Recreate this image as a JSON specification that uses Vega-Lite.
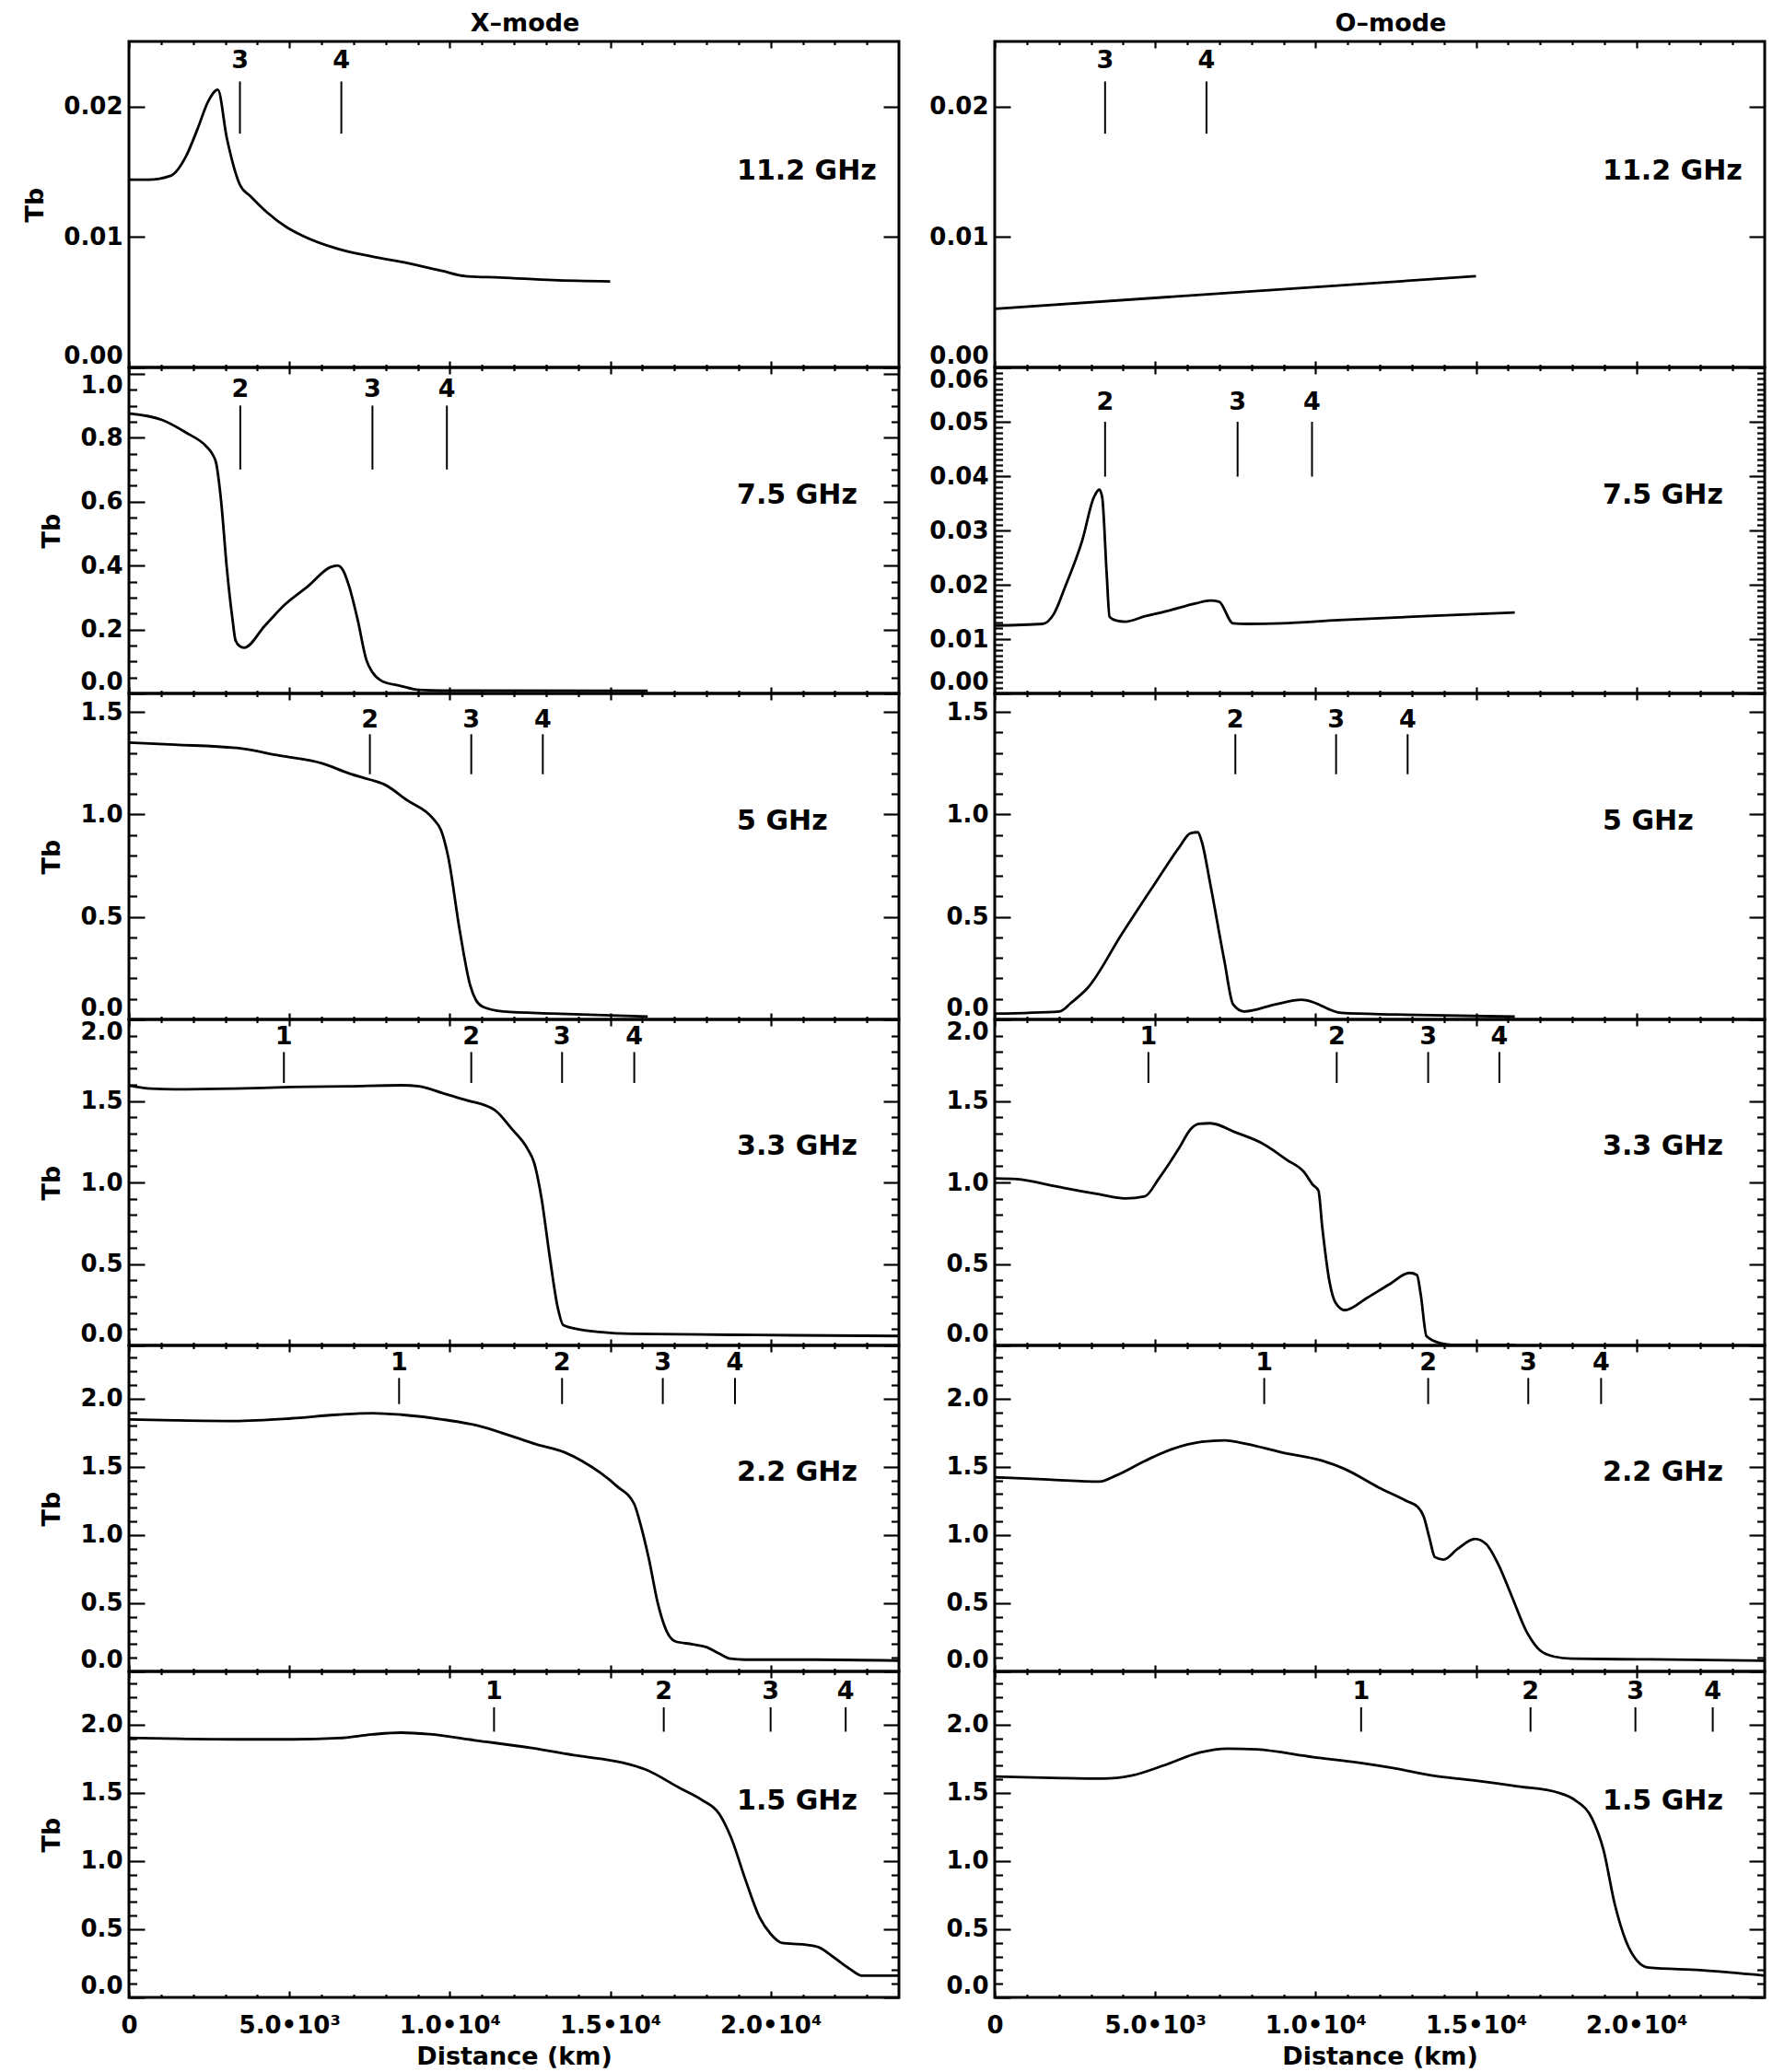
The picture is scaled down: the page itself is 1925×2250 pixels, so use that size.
{
"$schema": "https://vega.github.io/schema/vega-lite/v6.json",
"background": "white",
"padding": {"left": 23, "top": 10, "right": 0, "bottom": 0},
"config": {
  "font": "DejaVu Sans",
  "view": {"stroke": "black", "strokeWidth": 3},
  "axis": {"domain": false, "grid": false, "tickColor": "black", "tickWidth": 2.2, "labelFont": "DejaVu Sans", "labelFontWeight": "bold", "labelFontSize": 26, "labelColor": "black", "titleFont": "DejaVu Sans", "titleFontWeight": "bold", "titleFontSize": 27, "titleColor": "black", "labelOverlap": false},
  "title": {"font": "DejaVu Sans", "fontWeight": "bold", "fontSize": 27, "color": "black", "frame": "group", "anchor": "middle", "offset": 4}
},
"datasets": {
"curves": [
{"mode":"X","ghz":11.2,"d":0,"tb":0.0144},{"mode":"X","ghz":11.2,"d":600,"tb":0.0144},{"mode":"X","ghz":11.2,"d":1300,"tb":0.0147},{"mode":"X","ghz":11.2,"d":1780,"tb":0.0162},{"mode":"X","ghz":11.2,"d":2140,"tb":0.0183},{"mode":"X","ghz":11.2,"d":2470,"tb":0.0204},{"mode":"X","ghz":11.2,"d":2770,"tb":0.0213},{"mode":"X","ghz":11.2,"d":3050,"tb":0.0176},{"mode":"X","ghz":11.2,"d":3460,"tb":0.0140},{"mode":"X","ghz":11.2,"d":3800,"tb":0.0131},{"mode":"X","ghz":11.2,"d":4300,"tb":0.0119},{"mode":"X","ghz":11.2,"d":4950,"tb":0.0107},{"mode":"X","ghz":11.2,"d":5410,"tb":0.0101},{"mode":"X","ghz":11.2,"d":6500,"tb":0.0091},{"mode":"X","ghz":11.2,"d":7590,"tb":0.0085},{"mode":"X","ghz":11.2,"d":8680,"tb":0.0080},{"mode":"X","ghz":11.2,"d":9760,"tb":0.0074},{"mode":"X","ghz":11.2,"d":10490,"tb":0.0070},{"mode":"X","ghz":11.2,"d":11580,"tb":0.0069},{"mode":"X","ghz":11.2,"d":13210,"tb":0.0067},{"mode":"X","ghz":11.2,"d":15000,"tb":0.0066},
{"mode":"O","ghz":11.2,"d":0,"tb":0.0045},{"mode":"O","ghz":11.2,"d":15000,"tb":0.0070},
{"mode":"X","ghz":7.5,"d":0,"tb":0.876},{"mode":"X","ghz":7.5,"d":1050,"tb":0.855},{"mode":"X","ghz":7.5,"d":1780,"tb":0.816},{"mode":"X","ghz":7.5,"d":2410,"tb":0.773},{"mode":"X","ghz":7.5,"d":2600,"tb":0.749},{"mode":"X","ghz":7.5,"d":2720,"tb":0.72},{"mode":"X","ghz":7.5,"d":2870,"tb":0.605},{"mode":"X","ghz":7.5,"d":3050,"tb":0.393},{"mode":"X","ghz":7.5,"d":3230,"tb":0.23},{"mode":"X","ghz":7.5,"d":3320,"tb":0.167},{"mode":"X","ghz":7.5,"d":3450,"tb":0.148},{"mode":"X","ghz":7.5,"d":3590,"tb":0.143},{"mode":"X","ghz":7.5,"d":4230,"tb":0.211},{"mode":"X","ghz":7.5,"d":4860,"tb":0.278},{"mode":"X","ghz":7.5,"d":5590,"tb":0.336},{"mode":"X","ghz":7.5,"d":6280,"tb":0.395},{"mode":"X","ghz":7.5,"d":6500,"tb":0.400},{"mode":"X","ghz":7.5,"d":6680,"tb":0.384},{"mode":"X","ghz":7.5,"d":6860,"tb":0.336},{"mode":"X","ghz":7.5,"d":7130,"tb":0.23},{"mode":"X","ghz":7.5,"d":7400,"tb":0.105},{"mode":"X","ghz":7.5,"d":7590,"tb":0.066},{"mode":"X","ghz":7.5,"d":7860,"tb":0.04},{"mode":"X","ghz":7.5,"d":8490,"tb":0.023},{"mode":"X","ghz":7.5,"d":9040,"tb":0.011},{"mode":"X","ghz":7.5,"d":9760,"tb":0.009},{"mode":"X","ghz":7.5,"d":16170,"tb":0.008},
{"mode":"O","ghz":7.5,"d":0,"tb":0.0125},{"mode":"O","ghz":7.5,"d":1490,"tb":0.0128},{"mode":"O","ghz":7.5,"d":1840,"tb":0.0146},{"mode":"O","ghz":7.5,"d":2200,"tb":0.0197},{"mode":"O","ghz":7.5,"d":2730,"tb":0.0282},{"mode":"O","ghz":7.5,"d":3090,"tb":0.0361},{"mode":"O","ghz":7.5,"d":3260,"tb":0.0375},{"mode":"O","ghz":7.5,"d":3350,"tb":0.0361},{"mode":"O","ghz":7.5,"d":3490,"tb":0.0220},{"mode":"O","ghz":7.5,"d":3580,"tb":0.0141},{"mode":"O","ghz":7.5,"d":3790,"tb":0.0134},{"mode":"O","ghz":7.5,"d":4060,"tb":0.0132},{"mode":"O","ghz":7.5,"d":4680,"tb":0.0142},{"mode":"O","ghz":7.5,"d":5390,"tb":0.0152},{"mode":"O","ghz":7.5,"d":6280,"tb":0.0166},{"mode":"O","ghz":7.5,"d":6720,"tb":0.0171},{"mode":"O","ghz":7.5,"d":6990,"tb":0.0169},{"mode":"O","ghz":7.5,"d":7430,"tb":0.0129},{"mode":"O","ghz":7.5,"d":7870,"tb":0.0128},{"mode":"O","ghz":7.5,"d":8940,"tb":0.0129},{"mode":"O","ghz":7.5,"d":10710,"tb":0.0135},{"mode":"O","ghz":7.5,"d":13370,"tb":0.0142},{"mode":"O","ghz":7.5,"d":16210,"tb":0.0149},
{"mode":"X","ghz":5,"d":0,"tb":1.35},{"mode":"X","ghz":5,"d":1420,"tb":1.34},{"mode":"X","ghz":5,"d":3410,"tb":1.323},{"mode":"X","ghz":5,"d":4680,"tb":1.287},{"mode":"X","ghz":5,"d":6040,"tb":1.248},{"mode":"X","ghz":5,"d":6860,"tb":1.2},{"mode":"X","ghz":5,"d":7500,"tb":1.17},{"mode":"X","ghz":5,"d":7950,"tb":1.147},{"mode":"X","ghz":5,"d":8680,"tb":1.068},{"mode":"X","ghz":5,"d":9490,"tb":0.977},{"mode":"X","ghz":5,"d":9730,"tb":0.922},{"mode":"X","ghz":5,"d":9950,"tb":0.794},{"mode":"X","ghz":5,"d":10310,"tb":0.434},{"mode":"X","ghz":5,"d":10640,"tb":0.164},{"mode":"X","ghz":5,"d":10820,"tb":0.093},{"mode":"X","ghz":5,"d":11030,"tb":0.062},{"mode":"X","ghz":5,"d":11670,"tb":0.039},{"mode":"X","ghz":5,"d":13210,"tb":0.029},{"mode":"X","ghz":5,"d":16170,"tb":0.014},
{"mode":"O","ghz":5,"d":0,"tb":0.0285},{"mode":"O","ghz":5,"d":2020,"tb":0.039},{"mode":"O","ghz":5,"d":2380,"tb":0.081},{"mode":"O","ghz":5,"d":2910,"tb":0.156},{"mode":"O","ghz":5,"d":3970,"tb":0.419},{"mode":"O","ghz":5,"d":5040,"tb":0.674},{"mode":"O","ghz":5,"d":5750,"tb":0.839},{"mode":"O","ghz":5,"d":6100,"tb":0.908},{"mode":"O","ghz":5,"d":6330,"tb":0.913},{"mode":"O","ghz":5,"d":6450,"tb":0.869},{"mode":"O","ghz":5,"d":6720,"tb":0.659},{"mode":"O","ghz":5,"d":7160,"tb":0.284},{"mode":"O","ghz":5,"d":7430,"tb":0.074},{"mode":"O","ghz":5,"d":7780,"tb":0.039},{"mode":"O","ghz":5,"d":8760,"tb":0.074},{"mode":"O","ghz":5,"d":9560,"tb":0.096},{"mode":"O","ghz":5,"d":9730,"tb":0.093},{"mode":"O","ghz":5,"d":10800,"tb":0.032},{"mode":"O","ghz":5,"d":12480,"tb":0.024},{"mode":"O","ghz":5,"d":16210,"tb":0.0135},
{"mode":"X","ghz":3.3,"d":0,"tb":1.594},{"mode":"X","ghz":3.3,"d":690,"tb":1.575},{"mode":"X","ghz":3.3,"d":1420,"tb":1.571},{"mode":"X","ghz":3.3,"d":3230,"tb":1.575},{"mode":"X","ghz":3.3,"d":5050,"tb":1.585},{"mode":"X","ghz":3.3,"d":6860,"tb":1.59},{"mode":"X","ghz":3.3,"d":8490,"tb":1.596},{"mode":"X","ghz":3.3,"d":9040,"tb":1.59},{"mode":"X","ghz":3.3,"d":9760,"tb":1.549},{"mode":"X","ghz":3.3,"d":10490,"tb":1.506},{"mode":"X","ghz":3.3,"d":11400,"tb":1.444},{"mode":"X","ghz":3.3,"d":11940,"tb":1.327},{"mode":"X","ghz":3.3,"d":12400,"tb":1.214},{"mode":"X","ghz":3.3,"d":12630,"tb":1.12},{"mode":"X","ghz":3.3,"d":12850,"tb":0.914},{"mode":"X","ghz":3.3,"d":13120,"tb":0.538},{"mode":"X","ghz":3.3,"d":13360,"tb":0.237},{"mode":"X","ghz":3.3,"d":13540,"tb":0.124},{"mode":"X","ghz":3.3,"d":14120,"tb":0.096},{"mode":"X","ghz":3.3,"d":14660,"tb":0.083},{"mode":"X","ghz":3.3,"d":15660,"tb":0.071},{"mode":"X","ghz":3.3,"d":19560,"tb":0.064},{"mode":"X","ghz":3.3,"d":24000,"tb":0.058},
{"mode":"O","ghz":3.3,"d":0,"tb":1.025},{"mode":"O","ghz":3.3,"d":690,"tb":1.021},{"mode":"O","ghz":3.3,"d":1840,"tb":0.978},{"mode":"O","ghz":3.3,"d":3260,"tb":0.927},{"mode":"O","ghz":3.3,"d":4060,"tb":0.902},{"mode":"O","ghz":3.3,"d":4680,"tb":0.915},{"mode":"O","ghz":3.3,"d":5120,"tb":1.025},{"mode":"O","ghz":3.3,"d":5750,"tb":1.212},{"mode":"O","ghz":3.3,"d":6100,"tb":1.325},{"mode":"O","ghz":3.3,"d":6370,"tb":1.359},{"mode":"O","ghz":3.3,"d":6720,"tb":1.363},{"mode":"O","ghz":3.3,"d":7520,"tb":1.306},{"mode":"O","ghz":3.3,"d":8320,"tb":1.241},{"mode":"O","ghz":3.3,"d":9110,"tb":1.138},{"mode":"O","ghz":3.3,"d":9650,"tb":1.062},{"mode":"O","ghz":3.3,"d":9910,"tb":0.987},{"mode":"O","ghz":3.3,"d":10090,"tb":0.949},{"mode":"O","ghz":3.3,"d":10210,"tb":0.724},{"mode":"O","ghz":3.3,"d":10440,"tb":0.385},{"mode":"O","ghz":3.3,"d":10620,"tb":0.263},{"mode":"O","ghz":3.3,"d":10920,"tb":0.216},{"mode":"O","ghz":3.3,"d":11600,"tb":0.291},{"mode":"O","ghz":3.3,"d":12310,"tb":0.376},{"mode":"O","ghz":3.3,"d":12930,"tb":0.445},{"mode":"O","ghz":3.3,"d":13160,"tb":0.432},{"mode":"O","ghz":3.3,"d":13280,"tb":0.31},{"mode":"O","ghz":3.3,"d":13460,"tb":0.056},{"mode":"O","ghz":3.3,"d":13900,"tb":0.013},{"mode":"O","ghz":3.3,"d":14260,"tb":0.004},{"mode":"O","ghz":3.3,"d":16210,"tb":0.004},
{"mode":"X","ghz":2.2,"d":0,"tb":1.848},{"mode":"X","ghz":2.2,"d":1420,"tb":1.841},{"mode":"X","ghz":2.2,"d":3230,"tb":1.836},{"mode":"X","ghz":2.2,"d":5050,"tb":1.855},{"mode":"X","ghz":2.2,"d":6500,"tb":1.882},{"mode":"X","ghz":2.2,"d":7590,"tb":1.893},{"mode":"X","ghz":2.2,"d":8490,"tb":1.882},{"mode":"X","ghz":2.2,"d":9760,"tb":1.848},{"mode":"X","ghz":2.2,"d":10850,"tb":1.803},{"mode":"X","ghz":2.2,"d":11940,"tb":1.724},{"mode":"X","ghz":2.2,"d":12670,"tb":1.667},{"mode":"X","ghz":2.2,"d":13580,"tb":1.606},{"mode":"X","ghz":2.2,"d":14120,"tb":1.543},{"mode":"X","ghz":2.2,"d":15210,"tb":1.358},{"mode":"X","ghz":2.2,"d":15750,"tb":1.227},{"mode":"X","ghz":2.2,"d":15930,"tb":1.091},{"mode":"X","ghz":2.2,"d":16210,"tb":0.82},{"mode":"X","ghz":2.2,"d":16480,"tb":0.504},{"mode":"X","ghz":2.2,"d":16750,"tb":0.3},{"mode":"X","ghz":2.2,"d":17020,"tb":0.221},{"mode":"X","ghz":2.2,"d":17570,"tb":0.199},{"mode":"X","ghz":2.2,"d":18020,"tb":0.176},{"mode":"X","ghz":2.2,"d":18390,"tb":0.131},{"mode":"X","ghz":2.2,"d":18750,"tb":0.093},{"mode":"X","ghz":2.2,"d":19200,"tb":0.086},{"mode":"X","ghz":2.2,"d":21380,"tb":0.086},{"mode":"X","ghz":2.2,"d":24000,"tb":0.079},
{"mode":"O","ghz":2.2,"d":0,"tb":1.423},{"mode":"O","ghz":2.2,"d":1670,"tb":1.407},{"mode":"O","ghz":2.2,"d":3260,"tb":1.391},{"mode":"O","ghz":2.2,"d":3790,"tb":1.437},{"mode":"O","ghz":2.2,"d":4680,"tb":1.543},{"mode":"O","ghz":2.2,"d":5570,"tb":1.633},{"mode":"O","ghz":2.2,"d":6450,"tb":1.683},{"mode":"O","ghz":2.2,"d":7160,"tb":1.694},{"mode":"O","ghz":2.2,"d":7870,"tb":1.667},{"mode":"O","ghz":2.2,"d":8940,"tb":1.606},{"mode":"O","ghz":2.2,"d":10180,"tb":1.547},{"mode":"O","ghz":2.2,"d":10890,"tb":1.486},{"mode":"O","ghz":2.2,"d":11950,"tb":1.351},{"mode":"O","ghz":2.2,"d":12840,"tb":1.249},{"mode":"O","ghz":2.2,"d":13190,"tb":1.204},{"mode":"O","ghz":2.2,"d":13370,"tb":1.136},{"mode":"O","ghz":2.2,"d":13550,"tb":0.978},{"mode":"O","ghz":2.2,"d":13720,"tb":0.838},{"mode":"O","ghz":2.2,"d":13990,"tb":0.82},{"mode":"O","ghz":2.2,"d":14430,"tb":0.899},{"mode":"O","ghz":2.2,"d":14970,"tb":0.971},{"mode":"O","ghz":2.2,"d":15320,"tb":0.933},{"mode":"O","ghz":2.2,"d":15670,"tb":0.797},{"mode":"O","ghz":2.2,"d":16120,"tb":0.549},{"mode":"O","ghz":2.2,"d":16560,"tb":0.3},{"mode":"O","ghz":2.2,"d":17000,"tb":0.154},{"mode":"O","ghz":2.2,"d":17450,"tb":0.108},{"mode":"O","ghz":2.2,"d":17980,"tb":0.093},{"mode":"O","ghz":2.2,"d":20460,"tb":0.088},{"mode":"O","ghz":2.2,"d":24000,"tb":0.079},
{"mode":"X","ghz":1.5,"d":0,"tb":1.903},{"mode":"X","ghz":1.5,"d":1560,"tb":1.896},{"mode":"X","ghz":1.5,"d":3330,"tb":1.892},{"mode":"X","ghz":1.5,"d":5110,"tb":1.892},{"mode":"X","ghz":1.5,"d":6530,"tb":1.901},{"mode":"X","ghz":1.5,"d":7590,"tb":1.928},{"mode":"X","ghz":1.5,"d":8480,"tb":1.941},{"mode":"X","ghz":1.5,"d":9360,"tb":1.93},{"mode":"X","ghz":1.5,"d":10780,"tb":1.885},{"mode":"X","ghz":1.5,"d":12550,"tb":1.829},{"mode":"X","ghz":1.5,"d":13970,"tb":1.773},{"mode":"X","ghz":1.5,"d":15390,"tb":1.721},{"mode":"X","ghz":1.5,"d":16100,"tb":1.671},{"mode":"X","ghz":1.5,"d":17160,"tb":1.536},{"mode":"X","ghz":1.5,"d":17870,"tb":1.446},{"mode":"X","ghz":1.5,"d":18400,"tb":1.345},{"mode":"X","ghz":1.5,"d":18760,"tb":1.176},{"mode":"X","ghz":1.5,"d":19220,"tb":0.86},{"mode":"X","ghz":1.5,"d":19650,"tb":0.59},{"mode":"X","ghz":1.5,"d":20000,"tb":0.466},{"mode":"X","ghz":1.5,"d":20360,"tb":0.399},{"mode":"X","ghz":1.5,"d":21060,"tb":0.387},{"mode":"X","ghz":1.5,"d":21490,"tb":0.369},{"mode":"X","ghz":1.5,"d":21950,"tb":0.297},{"mode":"X","ghz":1.5,"d":22480,"tb":0.207},{"mode":"X","ghz":1.5,"d":22840,"tb":0.16},{"mode":"X","ghz":1.5,"d":24000,"tb":0.16},
{"mode":"O","ghz":1.5,"d":0,"tb":1.619},{"mode":"O","ghz":1.5,"d":1770,"tb":1.61},{"mode":"O","ghz":1.5,"d":3370,"tb":1.604},{"mode":"O","ghz":1.5,"d":4260,"tb":1.626},{"mode":"O","ghz":1.5,"d":5320,"tb":1.705},{"mode":"O","ghz":1.5,"d":6380,"tb":1.795},{"mode":"O","ghz":1.5,"d":7270,"tb":1.824},{"mode":"O","ghz":1.5,"d":8160,"tb":1.818},{"mode":"O","ghz":1.5,"d":9930,"tb":1.761},{"mode":"O","ghz":1.5,"d":11350,"tb":1.721},{"mode":"O","ghz":1.5,"d":12410,"tb":1.682},{"mode":"O","ghz":1.5,"d":13650,"tb":1.626},{"mode":"O","ghz":1.5,"d":14890,"tb":1.592},{"mode":"O","ghz":1.5,"d":16310,"tb":1.547},{"mode":"O","ghz":1.5,"d":17550,"tb":1.502},{"mode":"O","ghz":1.5,"d":18090,"tb":1.446},{"mode":"O","ghz":1.5,"d":18620,"tb":1.311},{"mode":"O","ghz":1.5,"d":18970,"tb":1.086},{"mode":"O","ghz":1.5,"d":19330,"tb":0.68},{"mode":"O","ghz":1.5,"d":19680,"tb":0.41},{"mode":"O","ghz":1.5,"d":20040,"tb":0.264},{"mode":"O","ghz":1.5,"d":20390,"tb":0.218},{"mode":"O","ghz":1.5,"d":21990,"tb":0.2},{"mode":"O","ghz":1.5,"d":24000,"tb":0.16}
],
"marks": [
{"mode":"X","ghz":11.2,"n":"3","d":3460},{"mode":"X","ghz":11.2,"n":"4","d":6620},
{"mode":"O","ghz":11.2,"n":"3","d":3440},{"mode":"O","ghz":11.2,"n":"4","d":6600},
{"mode":"X","ghz":7.5,"n":"2","d":3470},{"mode":"X","ghz":7.5,"n":"3","d":7590},{"mode":"X","ghz":7.5,"n":"4","d":9910},
{"mode":"O","ghz":7.5,"n":"2","d":3440},{"mode":"O","ghz":7.5,"n":"3","d":7570},{"mode":"O","ghz":7.5,"n":"4","d":9890},
{"mode":"X","ghz":5,"n":"2","d":7510},{"mode":"X","ghz":5,"n":"3","d":10670},{"mode":"X","ghz":5,"n":"4","d":12900},
{"mode":"O","ghz":5,"n":"2","d":7500},{"mode":"O","ghz":5,"n":"3","d":10640},{"mode":"O","ghz":5,"n":"4","d":12870},
{"mode":"X","ghz":3.3,"n":"1","d":4830},{"mode":"X","ghz":3.3,"n":"2","d":10670},{"mode":"X","ghz":3.3,"n":"3","d":13500},{"mode":"X","ghz":3.3,"n":"4","d":15750},
{"mode":"O","ghz":3.3,"n":"1","d":4790},{"mode":"O","ghz":3.3,"n":"2","d":10660},{"mode":"O","ghz":3.3,"n":"3","d":13510},{"mode":"O","ghz":3.3,"n":"4","d":15730},
{"mode":"X","ghz":2.2,"n":"1","d":8420},{"mode":"X","ghz":2.2,"n":"2","d":13500},{"mode":"X","ghz":2.2,"n":"3","d":16640},{"mode":"X","ghz":2.2,"n":"4","d":18890},
{"mode":"O","ghz":2.2,"n":"1","d":8400},{"mode":"O","ghz":2.2,"n":"2","d":13510},{"mode":"O","ghz":2.2,"n":"3","d":16630},{"mode":"O","ghz":2.2,"n":"4","d":18900},
{"mode":"X","ghz":1.5,"n":"1","d":11380},{"mode":"X","ghz":1.5,"n":"2","d":16670},{"mode":"X","ghz":1.5,"n":"3","d":20000},{"mode":"X","ghz":1.5,"n":"4","d":22340},
{"mode":"O","ghz":1.5,"n":"1","d":11420},{"mode":"O","ghz":1.5,"n":"2","d":16700},{"mode":"O","ghz":1.5,"n":"3","d":19970},{"mode":"O","ghz":1.5,"n":"4","d":22380}
],
"ghz": [
{"mode":"X","ghz":11.2,"label":"11.2 GHz"},{"mode":"O","ghz":11.2,"label":"11.2 GHz"},
{"mode":"X","ghz":7.5,"label":"7.5 GHz"},{"mode":"O","ghz":7.5,"label":"7.5 GHz"},
{"mode":"X","ghz":5,"label":"5 GHz"},{"mode":"O","ghz":5,"label":"5 GHz"},
{"mode":"X","ghz":3.3,"label":"3.3 GHz"},{"mode":"O","ghz":3.3,"label":"3.3 GHz"},
{"mode":"X","ghz":2.2,"label":"2.2 GHz"},{"mode":"O","ghz":2.2,"label":"2.2 GHz"},
{"mode":"X","ghz":1.5,"label":"1.5 GHz"},{"mode":"O","ghz":1.5,"label":"1.5 GHz"}
]
},
"columns": 2,
"spacing": {"row": 0, "column": 104},
"bounds": "flush",
"concat": [
{"width": 836, "height": 354, "title": {"text": "X–mode", "dx": 12},
 "layer": [
  {"data": {"name": "curves"}, "transform": [{"filter": "datum.mode == 'X' && datum.ghz == 11.2"}],
   "mark": {"type": "line", "color": "black", "strokeWidth": 2.8, "interpolate": "monotone", "clip": true},
   "encoding": {
    "x": {"field": "d", "type": "quantitative", "scale": {"domain": [0, 24000], "nice": false, "zero": false}, "axis": {"orient": "bottom", "values": [0,5000,10000,15000,20000], "labels": false, "tickSize": -7, "title": null}},
    "y": {"field": "tb", "type": "quantitative", "scale": {"domain": [0, 0.025], "nice": false, "zero": false}, "axis": {"orient": "left", "values": [0,0.01,0.02], "format": ".2f", "tickSize": -17, "labelPadding": 24, "labelFlush": 10, "title": "Tb", "titlePadding": 16}}}},
  {"data": {"name": "marks"}, "transform": [{"filter": "datum.mode == 'X' && datum.ghz == 11.2"}],
   "mark": {"type": "rule", "color": "black", "strokeWidth": 2},
   "encoding": {
    "x": {"field": "d", "type": "quantitative", "scale": {"domain": [0, 24000], "nice": false, "zero": false}, "axis": {"orient": "top", "values": [0,5000,10000,15000,20000], "labels": false, "tickSize": -7, "title": null}},
    "y": {"datum": 0.02193, "scale": {"domain": [0, 0.025], "nice": false, "zero": false}, "axis": {"orient": "right", "values": [0,0.01,0.02], "labels": false, "tickSize": -17, "title": null}},
    "y2": {"datum": 0.01793}}},
  {"data": {"name": "marks"}, "transform": [{"filter": "datum.mode == 'X' && datum.ghz == 11.2"}],
   "mark": {"type": "text", "font": "DejaVu Sans", "fontWeight": "bold", "fontSize": 27, "baseline": "middle", "align": "center", "color": "black"},
   "encoding": {
    "x": {"field": "d", "type": "quantitative", "scale": {"domain": [0, 24000], "nice": false, "zero": false}, "axis": {"orient": "bottom", "values": [1000,2000,3000,4000,6000,7000,8000,9000,11000,12000,13000,14000,16000,17000,18000,19000,21000,22000,23000], "labels": false, "tickSize": -3.5, "title": null}},
    "y": {"datum": 0.02355, "scale": {"domain": [0, 0.025], "nice": false, "zero": false}, "axis": null},
    "text": {"field": "n"}}},
  {"data": {"name": "ghz"}, "transform": [{"filter": "datum.mode == 'X' && datum.ghz == 11.2"}],
   "mark": {"type": "text", "font": "DejaVu Sans", "fontWeight": "bold", "fontSize": 30, "baseline": "middle", "align": "left", "color": "black"},
   "encoding": {
    "x": {"datum": 18950, "scale": {"domain": [0, 24000], "nice": false, "zero": false}, "axis": {"orient": "top", "values": [1000,2000,3000,4000,6000,7000,8000,9000,11000,12000,13000,14000,16000,17000,18000,19000,21000,22000,23000], "labels": false, "tickSize": -3.5, "title": null}},
    "y": {"datum": 0.01505, "scale": {"domain": [0, 0.025], "nice": false, "zero": false}, "axis": null},
    "text": {"field": "label"}}}
 ],
 "resolve": {"axis": {"x": "independent", "y": "independent"}}},
{"width": 836, "height": 354, "title": {"text": "O–mode", "dx": 12},
 "layer": [
  {"data": {"name": "curves"}, "transform": [{"filter": "datum.mode == 'O' && datum.ghz == 11.2"}],
   "mark": {"type": "line", "color": "black", "strokeWidth": 2.8, "interpolate": "monotone", "clip": true},
   "encoding": {
    "x": {"field": "d", "type": "quantitative", "scale": {"domain": [0, 24000], "nice": false, "zero": false}, "axis": {"orient": "bottom", "values": [0,5000,10000,15000,20000], "labels": false, "tickSize": -7, "title": null}},
    "y": {"field": "tb", "type": "quantitative", "scale": {"domain": [0, 0.025], "nice": false, "zero": false}, "axis": {"orient": "left", "values": [0,0.01,0.02], "format": ".2f", "tickSize": -17, "labelPadding": 24, "labelFlush": 10, "title": null}}}},
  {"data": {"name": "marks"}, "transform": [{"filter": "datum.mode == 'O' && datum.ghz == 11.2"}],
   "mark": {"type": "rule", "color": "black", "strokeWidth": 2},
   "encoding": {
    "x": {"field": "d", "type": "quantitative", "scale": {"domain": [0, 24000], "nice": false, "zero": false}, "axis": {"orient": "top", "values": [0,5000,10000,15000,20000], "labels": false, "tickSize": -7, "title": null}},
    "y": {"datum": 0.02193, "scale": {"domain": [0, 0.025], "nice": false, "zero": false}, "axis": {"orient": "right", "values": [0,0.01,0.02], "labels": false, "tickSize": -17, "title": null}},
    "y2": {"datum": 0.01793}}},
  {"data": {"name": "marks"}, "transform": [{"filter": "datum.mode == 'O' && datum.ghz == 11.2"}],
   "mark": {"type": "text", "font": "DejaVu Sans", "fontWeight": "bold", "fontSize": 27, "baseline": "middle", "align": "center", "color": "black"},
   "encoding": {
    "x": {"field": "d", "type": "quantitative", "scale": {"domain": [0, 24000], "nice": false, "zero": false}, "axis": {"orient": "bottom", "values": [1000,2000,3000,4000,6000,7000,8000,9000,11000,12000,13000,14000,16000,17000,18000,19000,21000,22000,23000], "labels": false, "tickSize": -3.5, "title": null}},
    "y": {"datum": 0.02355, "scale": {"domain": [0, 0.025], "nice": false, "zero": false}, "axis": null},
    "text": {"field": "n"}}},
  {"data": {"name": "ghz"}, "transform": [{"filter": "datum.mode == 'O' && datum.ghz == 11.2"}],
   "mark": {"type": "text", "font": "DejaVu Sans", "fontWeight": "bold", "fontSize": 30, "baseline": "middle", "align": "left", "color": "black"},
   "encoding": {
    "x": {"datum": 18950, "scale": {"domain": [0, 24000], "nice": false, "zero": false}, "axis": {"orient": "top", "values": [1000,2000,3000,4000,6000,7000,8000,9000,11000,12000,13000,14000,16000,17000,18000,19000,21000,22000,23000], "labels": false, "tickSize": -3.5, "title": null}},
    "y": {"datum": 0.01505, "scale": {"domain": [0, 0.025], "nice": false, "zero": false}, "axis": null},
    "text": {"field": "label"}}}
 ],
 "resolve": {"axis": {"x": "independent", "y": "independent"}}},
{"width": 836, "height": 354,
 "layer": [
  {"data": {"name": "curves"}, "transform": [{"filter": "datum.mode == 'X' && datum.ghz == 7.5"}],
   "mark": {"type": "line", "color": "black", "strokeWidth": 2.8, "interpolate": "monotone", "clip": true},
   "encoding": {
    "x": {"field": "d", "type": "quantitative", "scale": {"domain": [0, 24000], "nice": false, "zero": false}, "axis": {"orient": "bottom", "values": [0,5000,10000,15000,20000], "labels": false, "tickSize": -7, "title": null}},
    "y": {"field": "tb", "type": "quantitative", "scale": {"domain": [0, 1.02], "nice": false, "zero": false}, "axis": {"orient": "left", "values": [0,0.2,0.4,0.6,0.8,1.0], "format": ".1f", "tickSize": -17, "labelPadding": 24, "labelFlush": 10, "title": "Tb", "titlePadding": 16}}}},
  {"data": {"name": "marks"}, "transform": [{"filter": "datum.mode == 'X' && datum.ghz == 7.5"}],
   "mark": {"type": "rule", "color": "black", "strokeWidth": 2},
   "encoding": {
    "x": {"field": "d", "type": "quantitative", "scale": {"domain": [0, 24000], "nice": false, "zero": false}, "axis": {"orient": "top", "values": [0,5000,10000,15000,20000], "labels": false, "tickSize": -7, "title": null}},
    "y": {"datum": 0.9007, "scale": {"domain": [0, 1.02], "nice": false, "zero": false}, "axis": {"orient": "right", "values": [0,0.2,0.4,0.6,0.8,1.0], "labels": false, "tickSize": -17, "title": null}},
    "y2": {"datum": 0.7007}}},
  {"data": {"name": "marks"}, "transform": [{"filter": "datum.mode == 'X' && datum.ghz == 7.5"}],
   "mark": {"type": "text", "font": "DejaVu Sans", "fontWeight": "bold", "fontSize": 27, "baseline": "middle", "align": "center", "color": "black"},
   "encoding": {
    "x": {"field": "d", "type": "quantitative", "scale": {"domain": [0, 24000], "nice": false, "zero": false}, "axis": {"orient": "bottom", "values": [1000,2000,3000,4000,6000,7000,8000,9000,11000,12000,13000,14000,16000,17000,18000,19000,21000,22000,23000], "labels": false, "tickSize": -3.5, "title": null}},
    "y": {"datum": 0.9506, "scale": {"domain": [0, 1.02], "nice": false, "zero": false}, "axis": {"orient": "left", "values": [0.05,0.1,0.15,0.25,0.3,0.35,0.45,0.5,0.55,0.65,0.7,0.75,0.85,0.9,0.95], "labels": false, "tickSize": -8.5, "title": null}},
    "text": {"field": "n"}}},
  {"data": {"name": "ghz"}, "transform": [{"filter": "datum.mode == 'X' && datum.ghz == 7.5"}],
   "mark": {"type": "text", "font": "DejaVu Sans", "fontWeight": "bold", "fontSize": 30, "baseline": "middle", "align": "left", "color": "black"},
   "encoding": {
    "x": {"datum": 18950, "scale": {"domain": [0, 24000], "nice": false, "zero": false}, "axis": {"orient": "top", "values": [1000,2000,3000,4000,6000,7000,8000,9000,11000,12000,13000,14000,16000,17000,18000,19000,21000,22000,23000], "labels": false, "tickSize": -3.5, "title": null}},
    "y": {"datum": 0.619, "scale": {"domain": [0, 1.02], "nice": false, "zero": false}, "axis": {"orient": "right", "values": [0.05,0.1,0.15,0.25,0.3,0.35,0.45,0.5,0.55,0.65,0.7,0.75,0.85,0.9,0.95], "labels": false, "tickSize": -8.5, "title": null}},
    "text": {"field": "label"}}}
 ],
 "resolve": {"axis": {"x": "independent", "y": "independent"}}},
{"width": 836, "height": 354,
 "layer": [
  {"data": {"name": "curves"}, "transform": [{"filter": "datum.mode == 'O' && datum.ghz == 7.5"}],
   "mark": {"type": "line", "color": "black", "strokeWidth": 2.8, "interpolate": "monotone", "clip": true},
   "encoding": {
    "x": {"field": "d", "type": "quantitative", "scale": {"domain": [0, 24000], "nice": false, "zero": false}, "axis": {"orient": "bottom", "values": [0,5000,10000,15000,20000], "labels": false, "tickSize": -7, "title": null}},
    "y": {"field": "tb", "type": "quantitative", "scale": {"domain": [0, 0.06], "nice": false, "zero": false}, "axis": {"orient": "left", "values": [0,0.01,0.02,0.03,0.04,0.05,0.06], "format": ".2f", "tickSize": -17, "labelPadding": 24, "labelFlush": 10, "title": null}}}},
  {"data": {"name": "marks"}, "transform": [{"filter": "datum.mode == 'O' && datum.ghz == 7.5"}],
   "mark": {"type": "rule", "color": "black", "strokeWidth": 2},
   "encoding": {
    "x": {"field": "d", "type": "quantitative", "scale": {"domain": [0, 24000], "nice": false, "zero": false}, "axis": {"orient": "top", "values": [0,5000,10000,15000,20000], "labels": false, "tickSize": -7, "title": null}},
    "y": {"datum": 0.05, "scale": {"domain": [0, 0.06], "nice": false, "zero": false}, "axis": {"orient": "right", "values": [0,0.01,0.02,0.03,0.04,0.05,0.06], "labels": false, "tickSize": -17, "title": null}},
    "y2": {"datum": 0.0399}}},
  {"data": {"name": "marks"}, "transform": [{"filter": "datum.mode == 'O' && datum.ghz == 7.5"}],
   "mark": {"type": "text", "font": "DejaVu Sans", "fontWeight": "bold", "fontSize": 27, "baseline": "middle", "align": "center", "color": "black"},
   "encoding": {
    "x": {"field": "d", "type": "quantitative", "scale": {"domain": [0, 24000], "nice": false, "zero": false}, "axis": {"orient": "bottom", "values": [1000,2000,3000,4000,6000,7000,8000,9000,11000,12000,13000,14000,16000,17000,18000,19000,21000,22000,23000], "labels": false, "tickSize": -3.5, "title": null}},
    "y": {"datum": 0.0536, "scale": {"domain": [0, 0.06], "nice": false, "zero": false}, "axis": {"orient": "left", "values": [0.001,0.002,0.003,0.004,0.005,0.006,0.007,0.008,0.009,0.011,0.012,0.013,0.014,0.015,0.016,0.017,0.018,0.019,0.021,0.022,0.023,0.024,0.025,0.026,0.027,0.028,0.029,0.031,0.032,0.033,0.034,0.035,0.036,0.037,0.038,0.039,0.041,0.042,0.043,0.044,0.045,0.046,0.047,0.048,0.049,0.051,0.052,0.053,0.054,0.055,0.056,0.057,0.058,0.059], "labels": false, "tickSize": -8.5, "title": null}},
    "text": {"field": "n"}}},
  {"data": {"name": "ghz"}, "transform": [{"filter": "datum.mode == 'O' && datum.ghz == 7.5"}],
   "mark": {"type": "text", "font": "DejaVu Sans", "fontWeight": "bold", "fontSize": 30, "baseline": "middle", "align": "left", "color": "black"},
   "encoding": {
    "x": {"datum": 18950, "scale": {"domain": [0, 24000], "nice": false, "zero": false}, "axis": {"orient": "top", "values": [1000,2000,3000,4000,6000,7000,8000,9000,11000,12000,13000,14000,16000,17000,18000,19000,21000,22000,23000], "labels": false, "tickSize": -3.5, "title": null}},
    "y": {"datum": 0.0364, "scale": {"domain": [0, 0.06], "nice": false, "zero": false}, "axis": {"orient": "right", "values": [0.001,0.002,0.003,0.004,0.005,0.006,0.007,0.008,0.009,0.011,0.012,0.013,0.014,0.015,0.016,0.017,0.018,0.019,0.021,0.022,0.023,0.024,0.025,0.026,0.027,0.028,0.029,0.031,0.032,0.033,0.034,0.035,0.036,0.037,0.038,0.039,0.041,0.042,0.043,0.044,0.045,0.046,0.047,0.048,0.049,0.051,0.052,0.053,0.054,0.055,0.056,0.057,0.058,0.059], "labels": false, "tickSize": -8.5, "title": null}},
    "text": {"field": "label"}}}
 ],
 "resolve": {"axis": {"x": "independent", "y": "independent"}}},
{"width": 836, "height": 354,
 "layer": [
  {"data": {"name": "curves"}, "transform": [{"filter": "datum.mode == 'X' && datum.ghz == 5"}],
   "mark": {"type": "line", "color": "black", "strokeWidth": 2.8, "interpolate": "monotone", "clip": true},
   "encoding": {
    "x": {"field": "d", "type": "quantitative", "scale": {"domain": [0, 24000], "nice": false, "zero": false}, "axis": {"orient": "bottom", "values": [0,5000,10000,15000,20000], "labels": false, "tickSize": -7, "title": null}},
    "y": {"field": "tb", "type": "quantitative", "scale": {"domain": [0, 1.59], "nice": false, "zero": false}, "axis": {"orient": "left", "values": [0,0.5,1.0,1.5], "format": ".1f", "tickSize": -17, "labelPadding": 24, "labelFlush": 10, "title": "Tb", "titlePadding": 16}}}},
  {"data": {"name": "marks"}, "transform": [{"filter": "datum.mode == 'X' && datum.ghz == 5"}],
   "mark": {"type": "rule", "color": "black", "strokeWidth": 2},
   "encoding": {
    "x": {"field": "d", "type": "quantitative", "scale": {"domain": [0, 24000], "nice": false, "zero": false}, "axis": {"orient": "top", "values": [0,5000,10000,15000,20000], "labels": false, "tickSize": -7, "title": null}},
    "y": {"datum": 1.391, "scale": {"domain": [0, 1.59], "nice": false, "zero": false}, "axis": {"orient": "right", "values": [0,0.5,1.0,1.5], "labels": false, "tickSize": -17, "title": null}},
    "y2": {"datum": 1.196}}},
  {"data": {"name": "marks"}, "transform": [{"filter": "datum.mode == 'X' && datum.ghz == 5"}],
   "mark": {"type": "text", "font": "DejaVu Sans", "fontWeight": "bold", "fontSize": 27, "baseline": "middle", "align": "center", "color": "black"},
   "encoding": {
    "x": {"field": "d", "type": "quantitative", "scale": {"domain": [0, 24000], "nice": false, "zero": false}, "axis": {"orient": "bottom", "values": [1000,2000,3000,4000,6000,7000,8000,9000,11000,12000,13000,14000,16000,17000,18000,19000,21000,22000,23000], "labels": false, "tickSize": -3.5, "title": null}},
    "y": {"datum": 1.46, "scale": {"domain": [0, 1.59], "nice": false, "zero": false}, "axis": {"orient": "left", "values": [0.1,0.2,0.3,0.4,0.6,0.7,0.8,0.9,1.1,1.2,1.3,1.4], "labels": false, "tickSize": -8.5, "title": null}},
    "text": {"field": "n"}}},
  {"data": {"name": "ghz"}, "transform": [{"filter": "datum.mode == 'X' && datum.ghz == 5"}],
   "mark": {"type": "text", "font": "DejaVu Sans", "fontWeight": "bold", "fontSize": 30, "baseline": "middle", "align": "left", "color": "black"},
   "encoding": {
    "x": {"datum": 18950, "scale": {"domain": [0, 24000], "nice": false, "zero": false}, "axis": {"orient": "top", "values": [1000,2000,3000,4000,6000,7000,8000,9000,11000,12000,13000,14000,16000,17000,18000,19000,21000,22000,23000], "labels": false, "tickSize": -3.5, "title": null}},
    "y": {"datum": 0.965, "scale": {"domain": [0, 1.59], "nice": false, "zero": false}, "axis": {"orient": "right", "values": [0.1,0.2,0.3,0.4,0.6,0.7,0.8,0.9,1.1,1.2,1.3,1.4], "labels": false, "tickSize": -8.5, "title": null}},
    "text": {"field": "label"}}}
 ],
 "resolve": {"axis": {"x": "independent", "y": "independent"}}},
{"width": 836, "height": 354,
 "layer": [
  {"data": {"name": "curves"}, "transform": [{"filter": "datum.mode == 'O' && datum.ghz == 5"}],
   "mark": {"type": "line", "color": "black", "strokeWidth": 2.8, "interpolate": "monotone", "clip": true},
   "encoding": {
    "x": {"field": "d", "type": "quantitative", "scale": {"domain": [0, 24000], "nice": false, "zero": false}, "axis": {"orient": "bottom", "values": [0,5000,10000,15000,20000], "labels": false, "tickSize": -7, "title": null}},
    "y": {"field": "tb", "type": "quantitative", "scale": {"domain": [0, 1.59], "nice": false, "zero": false}, "axis": {"orient": "left", "values": [0,0.5,1.0,1.5], "format": ".1f", "tickSize": -17, "labelPadding": 24, "labelFlush": 10, "title": null}}}},
  {"data": {"name": "marks"}, "transform": [{"filter": "datum.mode == 'O' && datum.ghz == 5"}],
   "mark": {"type": "rule", "color": "black", "strokeWidth": 2},
   "encoding": {
    "x": {"field": "d", "type": "quantitative", "scale": {"domain": [0, 24000], "nice": false, "zero": false}, "axis": {"orient": "top", "values": [0,5000,10000,15000,20000], "labels": false, "tickSize": -7, "title": null}},
    "y": {"datum": 1.391, "scale": {"domain": [0, 1.59], "nice": false, "zero": false}, "axis": {"orient": "right", "values": [0,0.5,1.0,1.5], "labels": false, "tickSize": -17, "title": null}},
    "y2": {"datum": 1.196}}},
  {"data": {"name": "marks"}, "transform": [{"filter": "datum.mode == 'O' && datum.ghz == 5"}],
   "mark": {"type": "text", "font": "DejaVu Sans", "fontWeight": "bold", "fontSize": 27, "baseline": "middle", "align": "center", "color": "black"},
   "encoding": {
    "x": {"field": "d", "type": "quantitative", "scale": {"domain": [0, 24000], "nice": false, "zero": false}, "axis": {"orient": "bottom", "values": [1000,2000,3000,4000,6000,7000,8000,9000,11000,12000,13000,14000,16000,17000,18000,19000,21000,22000,23000], "labels": false, "tickSize": -3.5, "title": null}},
    "y": {"datum": 1.46, "scale": {"domain": [0, 1.59], "nice": false, "zero": false}, "axis": {"orient": "left", "values": [0.1,0.2,0.3,0.4,0.6,0.7,0.8,0.9,1.1,1.2,1.3,1.4], "labels": false, "tickSize": -8.5, "title": null}},
    "text": {"field": "n"}}},
  {"data": {"name": "ghz"}, "transform": [{"filter": "datum.mode == 'O' && datum.ghz == 5"}],
   "mark": {"type": "text", "font": "DejaVu Sans", "fontWeight": "bold", "fontSize": 30, "baseline": "middle", "align": "left", "color": "black"},
   "encoding": {
    "x": {"datum": 18950, "scale": {"domain": [0, 24000], "nice": false, "zero": false}, "axis": {"orient": "top", "values": [1000,2000,3000,4000,6000,7000,8000,9000,11000,12000,13000,14000,16000,17000,18000,19000,21000,22000,23000], "labels": false, "tickSize": -3.5, "title": null}},
    "y": {"datum": 0.965, "scale": {"domain": [0, 1.59], "nice": false, "zero": false}, "axis": {"orient": "right", "values": [0.1,0.2,0.3,0.4,0.6,0.7,0.8,0.9,1.1,1.2,1.3,1.4], "labels": false, "tickSize": -8.5, "title": null}},
    "text": {"field": "label"}}}
 ],
 "resolve": {"axis": {"x": "independent", "y": "independent"}}},
{"width": 836, "height": 354,
 "layer": [
  {"data": {"name": "curves"}, "transform": [{"filter": "datum.mode == 'X' && datum.ghz == 3.3"}],
   "mark": {"type": "line", "color": "black", "strokeWidth": 2.8, "interpolate": "monotone", "clip": true},
   "encoding": {
    "x": {"field": "d", "type": "quantitative", "scale": {"domain": [0, 24000], "nice": false, "zero": false}, "axis": {"orient": "bottom", "values": [0,5000,10000,15000,20000], "labels": false, "tickSize": -7, "title": null}},
    "y": {"field": "tb", "type": "quantitative", "scale": {"domain": [0, 2.0], "nice": false, "zero": false}, "axis": {"orient": "left", "values": [0,0.5,1.0,1.5,2.0], "format": ".1f", "tickSize": -17, "labelPadding": 24, "labelFlush": 10, "title": "Tb", "titlePadding": 16}}}},
  {"data": {"name": "marks"}, "transform": [{"filter": "datum.mode == 'X' && datum.ghz == 3.3"}],
   "mark": {"type": "rule", "color": "black", "strokeWidth": 2},
   "encoding": {
    "x": {"field": "d", "type": "quantitative", "scale": {"domain": [0, 24000], "nice": false, "zero": false}, "axis": {"orient": "top", "values": [0,5000,10000,15000,20000], "labels": false, "tickSize": -7, "title": null}},
    "y": {"datum": 1.8, "scale": {"domain": [0, 2.0], "nice": false, "zero": false}, "axis": {"orient": "right", "values": [0,0.5,1.0,1.5,2.0], "labels": false, "tickSize": -17, "title": null}},
    "y2": {"datum": 1.61}}},
  {"data": {"name": "marks"}, "transform": [{"filter": "datum.mode == 'X' && datum.ghz == 3.3"}],
   "mark": {"type": "text", "font": "DejaVu Sans", "fontWeight": "bold", "fontSize": 27, "baseline": "middle", "align": "center", "color": "black"},
   "encoding": {
    "x": {"field": "d", "type": "quantitative", "scale": {"domain": [0, 24000], "nice": false, "zero": false}, "axis": {"orient": "bottom", "values": [1000,2000,3000,4000,6000,7000,8000,9000,11000,12000,13000,14000,16000,17000,18000,19000,21000,22000,23000], "labels": false, "tickSize": -3.5, "title": null}},
    "y": {"datum": 1.892, "scale": {"domain": [0, 2.0], "nice": false, "zero": false}, "axis": {"orient": "left", "values": [0.1,0.2,0.3,0.4,0.6,0.7,0.8,0.9,1.1,1.2,1.3,1.4,1.6,1.7,1.8,1.9], "labels": false, "tickSize": -8.5, "title": null}},
    "text": {"field": "n"}}},
  {"data": {"name": "ghz"}, "transform": [{"filter": "datum.mode == 'X' && datum.ghz == 3.3"}],
   "mark": {"type": "text", "font": "DejaVu Sans", "fontWeight": "bold", "fontSize": 30, "baseline": "middle", "align": "left", "color": "black"},
   "encoding": {
    "x": {"datum": 18950, "scale": {"domain": [0, 24000], "nice": false, "zero": false}, "axis": {"orient": "top", "values": [1000,2000,3000,4000,6000,7000,8000,9000,11000,12000,13000,14000,16000,17000,18000,19000,21000,22000,23000], "labels": false, "tickSize": -3.5, "title": null}},
    "y": {"datum": 1.222, "scale": {"domain": [0, 2.0], "nice": false, "zero": false}, "axis": {"orient": "right", "values": [0.1,0.2,0.3,0.4,0.6,0.7,0.8,0.9,1.1,1.2,1.3,1.4,1.6,1.7,1.8,1.9], "labels": false, "tickSize": -8.5, "title": null}},
    "text": {"field": "label"}}}
 ],
 "resolve": {"axis": {"x": "independent", "y": "independent"}}},
{"width": 836, "height": 354,
 "layer": [
  {"data": {"name": "curves"}, "transform": [{"filter": "datum.mode == 'O' && datum.ghz == 3.3"}],
   "mark": {"type": "line", "color": "black", "strokeWidth": 2.8, "interpolate": "monotone", "clip": true},
   "encoding": {
    "x": {"field": "d", "type": "quantitative", "scale": {"domain": [0, 24000], "nice": false, "zero": false}, "axis": {"orient": "bottom", "values": [0,5000,10000,15000,20000], "labels": false, "tickSize": -7, "title": null}},
    "y": {"field": "tb", "type": "quantitative", "scale": {"domain": [0, 2.0], "nice": false, "zero": false}, "axis": {"orient": "left", "values": [0,0.5,1.0,1.5,2.0], "format": ".1f", "tickSize": -17, "labelPadding": 24, "labelFlush": 10, "title": null}}}},
  {"data": {"name": "marks"}, "transform": [{"filter": "datum.mode == 'O' && datum.ghz == 3.3"}],
   "mark": {"type": "rule", "color": "black", "strokeWidth": 2},
   "encoding": {
    "x": {"field": "d", "type": "quantitative", "scale": {"domain": [0, 24000], "nice": false, "zero": false}, "axis": {"orient": "top", "values": [0,5000,10000,15000,20000], "labels": false, "tickSize": -7, "title": null}},
    "y": {"datum": 1.8, "scale": {"domain": [0, 2.0], "nice": false, "zero": false}, "axis": {"orient": "right", "values": [0,0.5,1.0,1.5,2.0], "labels": false, "tickSize": -17, "title": null}},
    "y2": {"datum": 1.61}}},
  {"data": {"name": "marks"}, "transform": [{"filter": "datum.mode == 'O' && datum.ghz == 3.3"}],
   "mark": {"type": "text", "font": "DejaVu Sans", "fontWeight": "bold", "fontSize": 27, "baseline": "middle", "align": "center", "color": "black"},
   "encoding": {
    "x": {"field": "d", "type": "quantitative", "scale": {"domain": [0, 24000], "nice": false, "zero": false}, "axis": {"orient": "bottom", "values": [1000,2000,3000,4000,6000,7000,8000,9000,11000,12000,13000,14000,16000,17000,18000,19000,21000,22000,23000], "labels": false, "tickSize": -3.5, "title": null}},
    "y": {"datum": 1.892, "scale": {"domain": [0, 2.0], "nice": false, "zero": false}, "axis": {"orient": "left", "values": [0.1,0.2,0.3,0.4,0.6,0.7,0.8,0.9,1.1,1.2,1.3,1.4,1.6,1.7,1.8,1.9], "labels": false, "tickSize": -8.5, "title": null}},
    "text": {"field": "n"}}},
  {"data": {"name": "ghz"}, "transform": [{"filter": "datum.mode == 'O' && datum.ghz == 3.3"}],
   "mark": {"type": "text", "font": "DejaVu Sans", "fontWeight": "bold", "fontSize": 30, "baseline": "middle", "align": "left", "color": "black"},
   "encoding": {
    "x": {"datum": 18950, "scale": {"domain": [0, 24000], "nice": false, "zero": false}, "axis": {"orient": "top", "values": [1000,2000,3000,4000,6000,7000,8000,9000,11000,12000,13000,14000,16000,17000,18000,19000,21000,22000,23000], "labels": false, "tickSize": -3.5, "title": null}},
    "y": {"datum": 1.222, "scale": {"domain": [0, 2.0], "nice": false, "zero": false}, "axis": {"orient": "right", "values": [0.1,0.2,0.3,0.4,0.6,0.7,0.8,0.9,1.1,1.2,1.3,1.4,1.6,1.7,1.8,1.9], "labels": false, "tickSize": -8.5, "title": null}},
    "text": {"field": "label"}}}
 ],
 "resolve": {"axis": {"x": "independent", "y": "independent"}}},
{"width": 836, "height": 354,
 "layer": [
  {"data": {"name": "curves"}, "transform": [{"filter": "datum.mode == 'X' && datum.ghz == 2.2"}],
   "mark": {"type": "line", "color": "black", "strokeWidth": 2.8, "interpolate": "monotone", "clip": true},
   "encoding": {
    "x": {"field": "d", "type": "quantitative", "scale": {"domain": [0, 24000], "nice": false, "zero": false}, "axis": {"orient": "bottom", "values": [0,5000,10000,15000,20000], "labels": false, "tickSize": -7, "title": null}},
    "y": {"field": "tb", "type": "quantitative", "scale": {"domain": [0, 2.39], "nice": false, "zero": false}, "axis": {"orient": "left", "values": [0,0.5,1.0,1.5,2.0], "format": ".1f", "tickSize": -17, "labelPadding": 24, "labelFlush": 10, "title": "Tb", "titlePadding": 16}}}},
  {"data": {"name": "marks"}, "transform": [{"filter": "datum.mode == 'X' && datum.ghz == 2.2"}],
   "mark": {"type": "rule", "color": "black", "strokeWidth": 2},
   "encoding": {
    "x": {"field": "d", "type": "quantitative", "scale": {"domain": [0, 24000], "nice": false, "zero": false}, "axis": {"orient": "top", "values": [0,5000,10000,15000,20000], "labels": false, "tickSize": -7, "title": null}},
    "y": {"datum": 2.151, "scale": {"domain": [0, 2.39], "nice": false, "zero": false}, "axis": {"orient": "right", "values": [0,0.5,1.0,1.5,2.0], "labels": false, "tickSize": -17, "title": null}},
    "y2": {"datum": 1.96}}},
  {"data": {"name": "marks"}, "transform": [{"filter": "datum.mode == 'X' && datum.ghz == 2.2"}],
   "mark": {"type": "text", "font": "DejaVu Sans", "fontWeight": "bold", "fontSize": 27, "baseline": "middle", "align": "center", "color": "black"},
   "encoding": {
    "x": {"field": "d", "type": "quantitative", "scale": {"domain": [0, 24000], "nice": false, "zero": false}, "axis": {"orient": "bottom", "values": [1000,2000,3000,4000,6000,7000,8000,9000,11000,12000,13000,14000,16000,17000,18000,19000,21000,22000,23000], "labels": false, "tickSize": -3.5, "title": null}},
    "y": {"datum": 2.261, "scale": {"domain": [0, 2.39], "nice": false, "zero": false}, "axis": {"orient": "left", "values": [0.1,0.2,0.3,0.4,0.6,0.7,0.8,0.9,1.1,1.2,1.3,1.4,1.6,1.7,1.8,1.9,2.1,2.2,2.3], "labels": false, "tickSize": -8.5, "title": null}},
    "text": {"field": "n"}}},
  {"data": {"name": "ghz"}, "transform": [{"filter": "datum.mode == 'X' && datum.ghz == 2.2"}],
   "mark": {"type": "text", "font": "DejaVu Sans", "fontWeight": "bold", "fontSize": 30, "baseline": "middle", "align": "left", "color": "black"},
   "encoding": {
    "x": {"datum": 18950, "scale": {"domain": [0, 24000], "nice": false, "zero": false}, "axis": {"orient": "top", "values": [1000,2000,3000,4000,6000,7000,8000,9000,11000,12000,13000,14000,16000,17000,18000,19000,21000,22000,23000], "labels": false, "tickSize": -3.5, "title": null}},
    "y": {"datum": 1.46, "scale": {"domain": [0, 2.39], "nice": false, "zero": false}, "axis": {"orient": "right", "values": [0.1,0.2,0.3,0.4,0.6,0.7,0.8,0.9,1.1,1.2,1.3,1.4,1.6,1.7,1.8,1.9,2.1,2.2,2.3], "labels": false, "tickSize": -8.5, "title": null}},
    "text": {"field": "label"}}}
 ],
 "resolve": {"axis": {"x": "independent", "y": "independent"}}},
{"width": 836, "height": 354,
 "layer": [
  {"data": {"name": "curves"}, "transform": [{"filter": "datum.mode == 'O' && datum.ghz == 2.2"}],
   "mark": {"type": "line", "color": "black", "strokeWidth": 2.8, "interpolate": "monotone", "clip": true},
   "encoding": {
    "x": {"field": "d", "type": "quantitative", "scale": {"domain": [0, 24000], "nice": false, "zero": false}, "axis": {"orient": "bottom", "values": [0,5000,10000,15000,20000], "labels": false, "tickSize": -7, "title": null}},
    "y": {"field": "tb", "type": "quantitative", "scale": {"domain": [0, 2.39], "nice": false, "zero": false}, "axis": {"orient": "left", "values": [0,0.5,1.0,1.5,2.0], "format": ".1f", "tickSize": -17, "labelPadding": 24, "labelFlush": 10, "title": null}}}},
  {"data": {"name": "marks"}, "transform": [{"filter": "datum.mode == 'O' && datum.ghz == 2.2"}],
   "mark": {"type": "rule", "color": "black", "strokeWidth": 2},
   "encoding": {
    "x": {"field": "d", "type": "quantitative", "scale": {"domain": [0, 24000], "nice": false, "zero": false}, "axis": {"orient": "top", "values": [0,5000,10000,15000,20000], "labels": false, "tickSize": -7, "title": null}},
    "y": {"datum": 2.151, "scale": {"domain": [0, 2.39], "nice": false, "zero": false}, "axis": {"orient": "right", "values": [0,0.5,1.0,1.5,2.0], "labels": false, "tickSize": -17, "title": null}},
    "y2": {"datum": 1.96}}},
  {"data": {"name": "marks"}, "transform": [{"filter": "datum.mode == 'O' && datum.ghz == 2.2"}],
   "mark": {"type": "text", "font": "DejaVu Sans", "fontWeight": "bold", "fontSize": 27, "baseline": "middle", "align": "center", "color": "black"},
   "encoding": {
    "x": {"field": "d", "type": "quantitative", "scale": {"domain": [0, 24000], "nice": false, "zero": false}, "axis": {"orient": "bottom", "values": [1000,2000,3000,4000,6000,7000,8000,9000,11000,12000,13000,14000,16000,17000,18000,19000,21000,22000,23000], "labels": false, "tickSize": -3.5, "title": null}},
    "y": {"datum": 2.261, "scale": {"domain": [0, 2.39], "nice": false, "zero": false}, "axis": {"orient": "left", "values": [0.1,0.2,0.3,0.4,0.6,0.7,0.8,0.9,1.1,1.2,1.3,1.4,1.6,1.7,1.8,1.9,2.1,2.2,2.3], "labels": false, "tickSize": -8.5, "title": null}},
    "text": {"field": "n"}}},
  {"data": {"name": "ghz"}, "transform": [{"filter": "datum.mode == 'O' && datum.ghz == 2.2"}],
   "mark": {"type": "text", "font": "DejaVu Sans", "fontWeight": "bold", "fontSize": 30, "baseline": "middle", "align": "left", "color": "black"},
   "encoding": {
    "x": {"datum": 18950, "scale": {"domain": [0, 24000], "nice": false, "zero": false}, "axis": {"orient": "top", "values": [1000,2000,3000,4000,6000,7000,8000,9000,11000,12000,13000,14000,16000,17000,18000,19000,21000,22000,23000], "labels": false, "tickSize": -3.5, "title": null}},
    "y": {"datum": 1.46, "scale": {"domain": [0, 2.39], "nice": false, "zero": false}, "axis": {"orient": "right", "values": [0.1,0.2,0.3,0.4,0.6,0.7,0.8,0.9,1.1,1.2,1.3,1.4,1.6,1.7,1.8,1.9,2.1,2.2,2.3], "labels": false, "tickSize": -8.5, "title": null}},
    "text": {"field": "label"}}}
 ],
 "resolve": {"axis": {"x": "independent", "y": "independent"}}},
{"width": 836, "height": 354,
 "layer": [
  {"data": {"name": "curves"}, "transform": [{"filter": "datum.mode == 'X' && datum.ghz == 1.5"}],
   "mark": {"type": "line", "color": "black", "strokeWidth": 2.8, "interpolate": "monotone", "clip": true},
   "encoding": {
    "x": {"field": "d", "type": "quantitative", "scale": {"domain": [0, 24000], "nice": false, "zero": false}, "axis": {"orient": "bottom", "values": [0,5000,10000,15000,20000], "labels": true, "tickSize": -7, "labelPadding": 24, "labelFlush": false, "labelExpr": "datum.value == 0 ? '0' : datum.value == 5000 ? '5.0•10³' : datum.value == 10000 ? '1.0•10⁴' : datum.value == 15000 ? '1.5•10⁴' : '2.0•10⁴'", "title": "Distance (km)", "titlePadding": 8}},
    "y": {"field": "tb", "type": "quantitative", "scale": {"domain": [0, 2.39], "nice": false, "zero": false}, "axis": {"orient": "left", "values": [0,0.5,1.0,1.5,2.0], "format": ".1f", "tickSize": -17, "labelPadding": 24, "labelFlush": 10, "title": "Tb", "titlePadding": 16}}}},
  {"data": {"name": "marks"}, "transform": [{"filter": "datum.mode == 'X' && datum.ghz == 1.5"}],
   "mark": {"type": "rule", "color": "black", "strokeWidth": 2},
   "encoding": {
    "x": {"field": "d", "type": "quantitative", "scale": {"domain": [0, 24000], "nice": false, "zero": false}, "axis": {"orient": "top", "values": [0,5000,10000,15000,20000], "labels": false, "tickSize": -7, "title": null}},
    "y": {"datum": 2.127, "scale": {"domain": [0, 2.39], "nice": false, "zero": false}, "axis": {"orient": "right", "values": [0,0.5,1.0,1.5,2.0], "labels": false, "tickSize": -17, "title": null}},
    "y2": {"datum": 1.948}}},
  {"data": {"name": "marks"}, "transform": [{"filter": "datum.mode == 'X' && datum.ghz == 1.5"}],
   "mark": {"type": "text", "font": "DejaVu Sans", "fontWeight": "bold", "fontSize": 27, "baseline": "middle", "align": "center", "color": "black"},
   "encoding": {
    "x": {"field": "d", "type": "quantitative", "scale": {"domain": [0, 24000], "nice": false, "zero": false}, "axis": {"orient": "bottom", "values": [1000,2000,3000,4000,6000,7000,8000,9000,11000,12000,13000,14000,16000,17000,18000,19000,21000,22000,23000], "labels": false, "tickSize": -3.5, "title": null}},
    "y": {"datum": 2.239, "scale": {"domain": [0, 2.39], "nice": false, "zero": false}, "axis": {"orient": "left", "values": [0.1,0.2,0.3,0.4,0.6,0.7,0.8,0.9,1.1,1.2,1.3,1.4,1.6,1.7,1.8,1.9,2.1,2.2,2.3], "labels": false, "tickSize": -8.5, "title": null}},
    "text": {"field": "n"}}},
  {"data": {"name": "ghz"}, "transform": [{"filter": "datum.mode == 'X' && datum.ghz == 1.5"}],
   "mark": {"type": "text", "font": "DejaVu Sans", "fontWeight": "bold", "fontSize": 30, "baseline": "middle", "align": "left", "color": "black"},
   "encoding": {
    "x": {"datum": 18950, "scale": {"domain": [0, 24000], "nice": false, "zero": false}, "axis": {"orient": "top", "values": [1000,2000,3000,4000,6000,7000,8000,9000,11000,12000,13000,14000,16000,17000,18000,19000,21000,22000,23000], "labels": false, "tickSize": -3.5, "title": null}},
    "y": {"datum": 1.441, "scale": {"domain": [0, 2.39], "nice": false, "zero": false}, "axis": {"orient": "right", "values": [0.1,0.2,0.3,0.4,0.6,0.7,0.8,0.9,1.1,1.2,1.3,1.4,1.6,1.7,1.8,1.9,2.1,2.2,2.3], "labels": false, "tickSize": -8.5, "title": null}},
    "text": {"field": "label"}}}
 ],
 "resolve": {"axis": {"x": "independent", "y": "independent"}}},
{"width": 836, "height": 354,
 "layer": [
  {"data": {"name": "curves"}, "transform": [{"filter": "datum.mode == 'O' && datum.ghz == 1.5"}],
   "mark": {"type": "line", "color": "black", "strokeWidth": 2.8, "interpolate": "monotone", "clip": true},
   "encoding": {
    "x": {"field": "d", "type": "quantitative", "scale": {"domain": [0, 24000], "nice": false, "zero": false}, "axis": {"orient": "bottom", "values": [0,5000,10000,15000,20000], "labels": true, "tickSize": -7, "labelPadding": 24, "labelFlush": false, "labelExpr": "datum.value == 0 ? '0' : datum.value == 5000 ? '5.0•10³' : datum.value == 10000 ? '1.0•10⁴' : datum.value == 15000 ? '1.5•10⁴' : '2.0•10⁴'", "title": "Distance (km)", "titlePadding": 8}},
    "y": {"field": "tb", "type": "quantitative", "scale": {"domain": [0, 2.39], "nice": false, "zero": false}, "axis": {"orient": "left", "values": [0,0.5,1.0,1.5,2.0], "format": ".1f", "tickSize": -17, "labelPadding": 24, "labelFlush": 10, "title": null}}}},
  {"data": {"name": "marks"}, "transform": [{"filter": "datum.mode == 'O' && datum.ghz == 1.5"}],
   "mark": {"type": "rule", "color": "black", "strokeWidth": 2},
   "encoding": {
    "x": {"field": "d", "type": "quantitative", "scale": {"domain": [0, 24000], "nice": false, "zero": false}, "axis": {"orient": "top", "values": [0,5000,10000,15000,20000], "labels": false, "tickSize": -7, "title": null}},
    "y": {"datum": 2.127, "scale": {"domain": [0, 2.39], "nice": false, "zero": false}, "axis": {"orient": "right", "values": [0,0.5,1.0,1.5,2.0], "labels": false, "tickSize": -17, "title": null}},
    "y2": {"datum": 1.948}}},
  {"data": {"name": "marks"}, "transform": [{"filter": "datum.mode == 'O' && datum.ghz == 1.5"}],
   "mark": {"type": "text", "font": "DejaVu Sans", "fontWeight": "bold", "fontSize": 27, "baseline": "middle", "align": "center", "color": "black"},
   "encoding": {
    "x": {"field": "d", "type": "quantitative", "scale": {"domain": [0, 24000], "nice": false, "zero": false}, "axis": {"orient": "bottom", "values": [1000,2000,3000,4000,6000,7000,8000,9000,11000,12000,13000,14000,16000,17000,18000,19000,21000,22000,23000], "labels": false, "tickSize": -3.5, "title": null}},
    "y": {"datum": 2.239, "scale": {"domain": [0, 2.39], "nice": false, "zero": false}, "axis": {"orient": "left", "values": [0.1,0.2,0.3,0.4,0.6,0.7,0.8,0.9,1.1,1.2,1.3,1.4,1.6,1.7,1.8,1.9,2.1,2.2,2.3], "labels": false, "tickSize": -8.5, "title": null}},
    "text": {"field": "n"}}},
  {"data": {"name": "ghz"}, "transform": [{"filter": "datum.mode == 'O' && datum.ghz == 1.5"}],
   "mark": {"type": "text", "font": "DejaVu Sans", "fontWeight": "bold", "fontSize": 30, "baseline": "middle", "align": "left", "color": "black"},
   "encoding": {
    "x": {"datum": 18950, "scale": {"domain": [0, 24000], "nice": false, "zero": false}, "axis": {"orient": "top", "values": [1000,2000,3000,4000,6000,7000,8000,9000,11000,12000,13000,14000,16000,17000,18000,19000,21000,22000,23000], "labels": false, "tickSize": -3.5, "title": null}},
    "y": {"datum": 1.441, "scale": {"domain": [0, 2.39], "nice": false, "zero": false}, "axis": {"orient": "right", "values": [0.1,0.2,0.3,0.4,0.6,0.7,0.8,0.9,1.1,1.2,1.3,1.4,1.6,1.7,1.8,1.9,2.1,2.2,2.3], "labels": false, "tickSize": -8.5, "title": null}},
    "text": {"field": "label"}}}
 ],
 "resolve": {"axis": {"x": "independent", "y": "independent"}}}
]
}
